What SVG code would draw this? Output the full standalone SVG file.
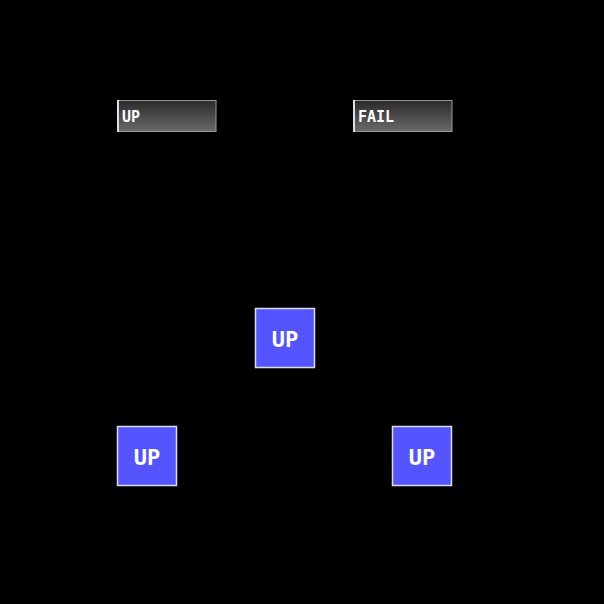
<svg xmlns="http://www.w3.org/2000/svg" width="604" height="604" viewBox="0 0 604 604">
<defs>
<linearGradient id="g" x1="0" y1="0" x2="0" y2="1">
<stop offset="0" stop-color="#2a2a2a"/>
<stop offset="1" stop-color="#6a6a6a"/>
</linearGradient>
</defs>
<style>
.lbl rect{fill:url(#g);stroke:#999;stroke-width:1}
.lbl .edge{stroke:#e0e0e0;stroke-width:2}
.lbl text{font-family:"DejaVu Sans Mono",monospace;font-weight:bold;font-size:15px;fill:#fff}
.node rect{fill:#5555ff;stroke:#dcdcf0;stroke-width:1.5}
.node text{font-family:"DejaVu Sans Mono",monospace;font-weight:bold;font-size:22px;fill:#fff;text-anchor:middle}
</style>
<rect width="604" height="604" fill="#000"/>
<g id="label-up" class="lbl">
<rect x="117.5" y="100.5" width="98.5" height="31"/>
<line class="edge" x1="118" y1="100" x2="118" y2="132"/>
<text x="122" y="122">UP</text>
</g>
<g id="label-fail" class="lbl">
<rect x="353.5" y="100.5" width="98.5" height="31"/>
<line class="edge" x1="354" y1="100" x2="354" y2="132"/>
<text x="358" y="122">FAIL</text>
</g>
<g id="connectors"></g>
<g id="node-center" class="node">
<rect x="255.5" y="308.5" width="59" height="59"/>
<text x="285" y="347">UP</text>
</g>
<g id="node-left" class="node">
<rect x="117.5" y="426.5" width="59" height="59"/>
<text x="147" y="465">UP</text>
</g>
<g id="node-right" class="node">
<rect x="392.5" y="426.5" width="59" height="59"/>
<text x="422" y="465">UP</text>
</g>
</svg>
